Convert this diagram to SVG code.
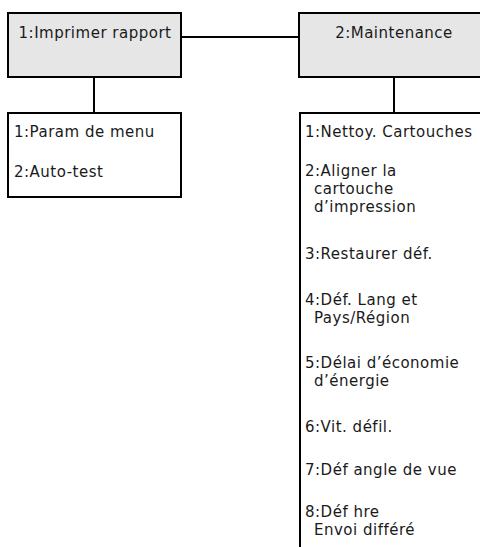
<svg xmlns="http://www.w3.org/2000/svg" width="480" height="547" viewBox="0 0 480 547">
<style>
.hdr{fill:#e6e6e6;stroke:#000;stroke-width:2}
.sub{fill:#fff;stroke:#000;stroke-width:2}
.ln{stroke:#000;stroke-width:2;fill:none}
text{font-family:"DejaVu Sans","Liberation Sans",sans-serif;font-size:15px;letter-spacing:0.5px;fill:#1a1a1a}
.c{text-anchor:middle}
</style>
<rect width="480" height="547" fill="#fff"/>
<g id="connectors">
<line class="ln" x1="181" y1="37" x2="299" y2="37"/>
<line class="ln" x1="94" y1="77" x2="94" y2="113"/>
<line class="ln" x1="394" y1="77" x2="394" y2="113"/>
</g>
<g id="n1">
<rect class="hdr" x="8" y="13" width="173" height="64"/>
<text class="c" x="95" y="38">1:Imprimer rapport</text>
</g>
<g id="n2">
<rect class="hdr" x="299" y="13" width="190" height="64"/>
<text class="c" x="394" y="38">2:Maintenance</text>
</g>
<g id="n1sub">
<rect class="sub" x="8" y="113" width="173" height="84"/>
<text x="14" y="137">1:Param de menu</text>
<text x="14" y="177">2:Auto-test</text>
</g>
<g id="n2sub">
<path class="ln" d="M300 550 V113 H490"/>
<text x="305" y="137">1:Nettoy. Cartouches</text>
<text x="305" y="176">2:Aligner la</text>
<text x="314" y="194">cartouche</text>
<text x="314" y="212">d’impression</text>
<text x="305" y="259">3:Restaurer déf.</text>
<text x="305" y="305">4:Déf. Lang et</text>
<text x="314" y="323">Pays/Région</text>
<text x="305" y="368">5:Délai d’économie</text>
<text x="314" y="386">d’énergie</text>
<text x="305" y="432">6:Vit. défil.</text>
<text x="305" y="475">7:Déf angle de vue</text>
<text x="305" y="517">8:Déf hre</text>
<text x="314" y="535">Envoi différé</text>
</g>
</svg>
